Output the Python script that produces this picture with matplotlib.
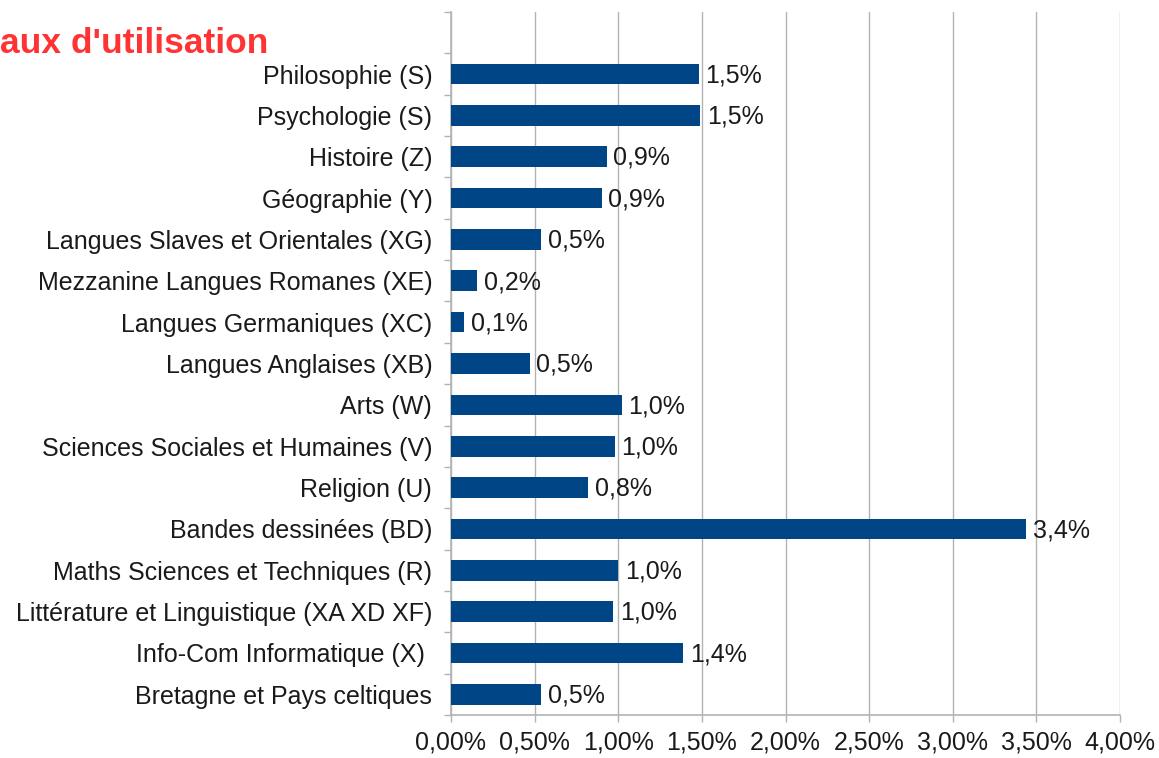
import matplotlib
matplotlib.use("Agg")
import matplotlib.pyplot as plt
from matplotlib.ticker import FuncFormatter, FixedLocator

plt.rcParams["font.family"] = ["Liberation Sans", "DejaVu Sans"]

# top to bottom, as in the chart
categories = [
    "Philosophie (S)", "Psychologie (S)", "Histoire (Z)", "Géographie (Y)",
    "Langues Slaves et Orientales (XG)", "Mezzanine Langues Romanes (XE)",
    "Langues Germaniques (XC)", "Langues Anglaises (XB)", "Arts (W)",
    "Sciences Sociales et Humaines (V)", "Religion (U)", "Bandes dessinées (BD)",
    "Maths Sciences et Techniques (R)", "Littérature et Linguistique (XA XD XF)",
    "Info-Com Informatique (X) ", "Bretagne et Pays celtiques",
]
rates = [1.48, 1.49, 0.93, 0.90, 0.54, 0.155, 0.08, 0.47, 1.02,
         0.98, 0.82, 3.44, 1.00, 0.97, 1.39, 0.54]
xticks = [0, 0.5, 1.0, 1.5, 2.0, 2.5, 3.0, 3.5, 4.0]

BLUE = "#004586"
GRID = "#b3b3b3"
FS = 18

fig = plt.figure(figsize=(11.59, 7.58), dpi=100)
ax = fig.add_axes([451 / 1159, 1 - 715 / 758, (1120 - 451) / 1159, (715 - 12) / 758])

ys = list(range(len(categories)))
ax.barh(ys, rates, height=0.5, color=BLUE, zorder=3)
for y, v in zip(ys, rates):
    ax.text(v + 0.04, y + 0.03, f"{v:.1f}%".replace(".", ","), va="center", ha="left",
            fontsize=FS, color="#1a1a1a", zorder=4)

ax.set_xlim(0, 4.0)
ax.set_ylim(len(categories) - 0.5, -1.5)

ax.set_yticks(ys)
ax.set_yticklabels(categories, fontsize=FS, color="#1a1a1a")
ax.yaxis.set_minor_locator(FixedLocator([i - 0.5 for i in range(-1, len(categories) + 1)]))
ax.tick_params(axis="y", which="major", length=0, pad=13.5)
ax.tick_params(axis="y", which="minor", length=5, color=GRID, width=1)

ax.xaxis.set_major_locator(FixedLocator(xticks))
ax.xaxis.set_major_formatter(FuncFormatter(lambda v, p: f"{v:.2f}%".replace(".", ",")))
ax.tick_params(axis="x", length=5, color=GRID, width=1, labelsize=FS,
               labelcolor="#1a1a1a", pad=6)
ax.grid(axis="x", color=GRID, lw=1, zorder=0)

for s in ("top", "right"):
    ax.spines[s].set_visible(False)
for s in ("left", "bottom"):
    ax.spines[s].set_color(GRID)
    ax.spines[s].set_linewidth(1.2)

fig.text(0, 1 - 53 / 758, "aux d'utilisation", color="#ff3333", fontsize=25.5,
         fontweight="bold", ha="left", va="baseline")

fig.savefig("out.png", dpi=100)
